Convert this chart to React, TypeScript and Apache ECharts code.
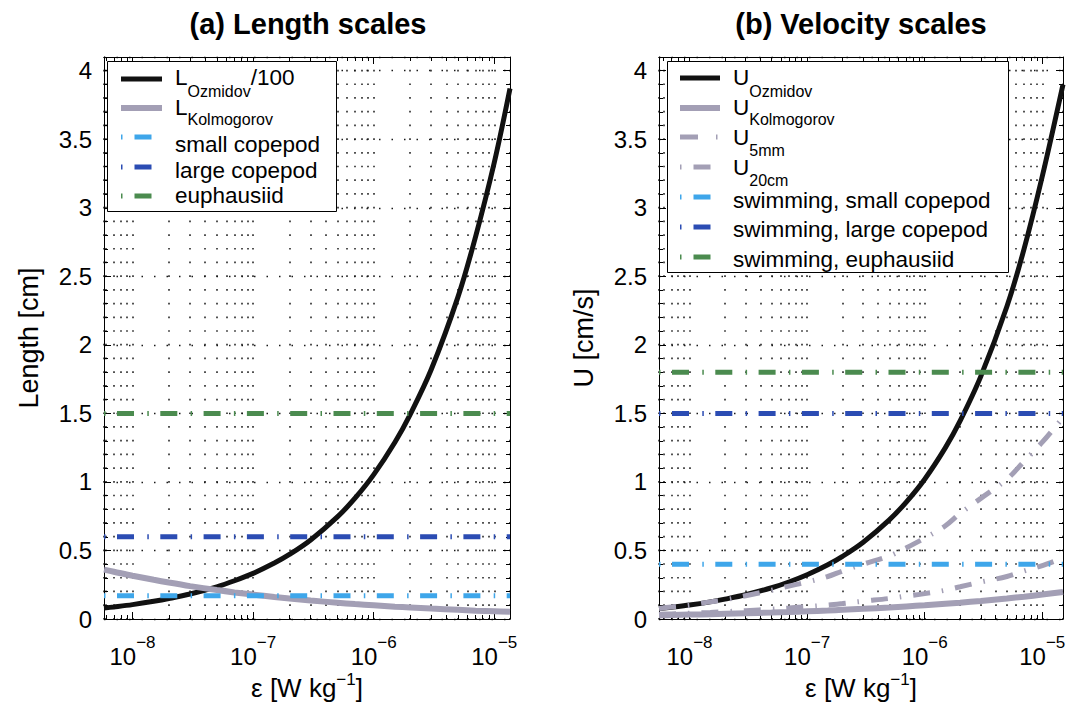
import React, { useEffect, useRef } from 'react';
import * as echarts from 'echarts';

// ---------- data ----------
// panel (a) x range and sample points [W/kg]
const EPS_A_MIN = 5.8e-9;
const EPS_A_MAX = 1.35e-5;
const epsA = [
  5.8e-9, 7e-9, 1e-8, 1.5e-8, 2e-8, 3e-8, 5e-8, 7e-8, 1e-7, 1.5e-7, 2e-7, 3e-7,
  5e-7, 7e-7, 1e-6, 1.5e-6, 2e-6, 3e-6, 5e-6, 7e-6, 1e-5, 1.35e-5,
];
// panel (a) length scales [cm]
const lOzmidov100 = [
  0.08, 0.088, 0.105, 0.129, 0.149, 0.182, 0.235, 0.279, 0.333, 0.408, 0.471, 0.577,
  0.745, 0.881, 1.053, 1.29, 1.49, 1.82, 2.35, 2.79, 3.33, 3.87,
];
const lKolmogorov = [
  0.36, 0.345, 0.316, 0.286, 0.266, 0.24, 0.211, 0.194, 0.178, 0.161, 0.15, 0.135,
  0.119, 0.109, 0.1, 0.09, 0.084, 0.076, 0.067, 0.061, 0.056, 0.052,
];
const lengthRefNames = ['small copepod', 'large copepod', 'euphausiid'];
const lengthRefValues = [0.17, 0.6, 1.5];

// panel (b) x range and sample points [W/kg]
const EPS_B_MIN = 5.5e-9;
const EPS_B_MAX = 1.5e-5;
const epsB = [
  5.5e-9, 7e-9, 1e-8, 1.5e-8, 2e-8, 3e-8, 5e-8, 7e-8, 1e-7, 1.5e-7, 2e-7, 3e-7,
  5e-7, 7e-7, 1e-6, 1.5e-6, 2e-6, 3e-6, 5e-6, 7e-6, 1e-5, 1.5e-5,
];
// panel (b) velocity scales [cm/s]
const uOzmidov = [
  0.076, 0.086, 0.102, 0.125, 0.145, 0.177, 0.228, 0.27, 0.323, 0.396, 0.457, 0.56,
  0.723, 0.855, 1.02, 1.25, 1.445, 1.77, 2.28, 2.7, 3.23, 3.9,
];
const uKolmogorov = [
  0.027, 0.029, 0.032, 0.035, 0.038, 0.042, 0.047, 0.051, 0.056, 0.062, 0.067, 0.074,
  0.084, 0.092, 0.1, 0.111, 0.119, 0.132, 0.15, 0.163, 0.178, 0.197,
];
const u5mm = [
  0.034, 0.037, 0.042, 0.047, 0.053, 0.061, 0.072, 0.08, 0.09, 0.102, 0.113, 0.13,
  0.15, 0.167, 0.185, 0.21, 0.235, 0.27, 0.31, 0.35, 0.39, 0.445,
];
const u20cm = [
  0.077, 0.088, 0.1, 0.125, 0.14, 0.17, 0.21, 0.24, 0.27, 0.31, 0.35, 0.4,
  0.46, 0.52, 0.59, 0.68, 0.77, 0.88, 1.02, 1.15, 1.29, 1.47,
];
const swimNames = ['swimming, small copepod', 'swimming, large copepod', 'swimming, euphausiid'];
const swimValues = [0.4, 1.5, 1.8];

const refColors = ['#3ea6ea', '#2b4cb3', '#4b8b4f'];
const BLACK = '#111111';
const GREY = '#a39fb5';

const Y_MIN = 0;
const Y_MAX = 4.1;

// ---------- styling ----------
const FONT = "'Liberation Sans', Arial, Helvetica, sans-serif";
const GRID_TOP = 57;
const GRID_H = 562;
const ROW = GRID_H / 41;
const grids = [
  { left: 104, top: GRID_TOP, width: 406, height: GRID_H, containLabel: false, outerBoundsMode: 'none' },
  { left: 659, top: GRID_TOP, width: 404, height: GRID_H, containLabel: false, outerBoundsMode: 'none' },
];
const dotV = { color: '#1a1a1a', width: 1.5, type: [1.7, ROW - 1.7], dashOffset: 0.85 };
const dotH = { color: '#1a1a1a', width: 1.3, type: [1.5, 11] };
const REF_DASH = [1.5, 11.5, 17, 13.3];

const expFormatter = (v: number) => {
  const l = Math.log10(v);
  const e = Math.round(l);
  if (Math.abs(l - e) > 1e-6) return '';
  return `{b|10}{e|${e < 0 ? '\u2212' : ''}${Math.abs(e)}}`;
};
const expRich = {
  b: { fontSize: 24, fontFamily: FONT, color: '#000', lineHeight: 34, verticalAlign: 'bottom' },
  e: { fontSize: 17, fontFamily: FONT, color: '#000', lineHeight: 18, verticalAlign: 'top' },
};

function xAxesFor(gi: number, min: number, max: number) {
  return [
    {
      type: 'log', logBase: 10, gridIndex: gi, position: 'bottom', min, max,
      axisLine: { show: true, onZero: false, lineStyle: { color: '#000', width: 1 } },
      axisTick: { show: true, inside: true, length: 7, lineStyle: { color: '#000' } },
      minorTick: { show: true, splitNumber: 9, length: 4, lineStyle: { color: '#000' } },
      axisLabel: { formatter: expFormatter, rich: expRich, margin: 15, showMinLabel: false, showMaxLabel: false },
      splitLine: { show: true, lineStyle: dotV },
      minorSplitLine: { show: true, lineStyle: dotV },
      name: '{n|\u03b5 [W kg}{s|\u22121}{n|]}',
      nameLocation: 'middle',
      nameGap: 52,
      nameMoveOverlap: false,
      nameTextStyle: {
        rich: {
          n: { fontSize: 26, fontFamily: FONT, color: '#000', lineHeight: 30, verticalAlign: 'bottom' },
          s: { fontSize: 17, fontFamily: FONT, color: '#000', lineHeight: 14, verticalAlign: 'top' },
        },
      },
    },
    {
      type: 'log', logBase: 10, gridIndex: gi, position: 'top', min, max,
      axisLine: { show: true, onZero: false, lineStyle: { color: '#000', width: 1 } },
      axisTick: { show: true, inside: true, length: 7, lineStyle: { color: '#000' } },
      minorTick: { show: true, splitNumber: 9, length: 4, lineStyle: { color: '#000' } },
      axisLabel: { show: false },
      splitLine: { show: false },
    },
  ];
}

function yAxesFor(gi: number, name: string) {
  const base = { type: 'value', gridIndex: gi, min: Y_MIN, max: Y_MAX };
  return [
    {
      ...base, position: 'left', interval: 0.5,
      axisLine: { show: true, onZero: false, lineStyle: { color: '#000', width: 1 } },
      axisTick: { show: true, inside: true, length: 7, lineStyle: { color: '#000' } },
      axisLabel: { fontSize: 24, fontFamily: FONT, color: '#000', margin: 12, showMaxLabel: false },
      splitLine: { show: true, lineStyle: dotH },
      name, nameLocation: 'middle', nameGap: 62, nameMoveOverlap: false,
      nameTextStyle: { fontSize: 27, fontFamily: FONT, color: '#000' },
    },
    {
      ...base, position: 'left', interval: 0.1,
      axisLine: { show: false, onZero: false },
      axisTick: { show: true, inside: true, length: 4, lineStyle: { color: '#000' } },
      axisLabel: { show: false }, splitLine: { show: false },
    },
    {
      ...base, position: 'right', interval: 0.5,
      axisLine: { show: true, onZero: false, lineStyle: { color: '#000', width: 1 } },
      axisTick: { show: true, inside: true, length: 7, lineStyle: { color: '#000' } },
      axisLabel: { show: false }, splitLine: { show: false },
    },
    {
      ...base, position: 'right', interval: 0.1,
      axisLine: { show: false, onZero: false },
      axisTick: { show: true, inside: true, length: 4, lineStyle: { color: '#000' } },
      axisLabel: { show: false }, splitLine: { show: false },
    },
  ];
}

function curve(name: string, xs: number[], ys: number[], color: string, width: number, dash: any, xi: number, yi: number, z: number) {
  return {
    type: 'line', name, xAxisIndex: xi, yAxisIndex: yi,
    data: xs.map((x, i) => [x, ys[i]]),
    showSymbol: false, symbol: 'none', smooth: 0.35, silent: true, z,
    lineStyle: { color, width, type: dash, cap: 'butt' },
  };
}
function hline(name: string, v: number, x0: number, x1: number, color: string, xi: number, yi: number, z: number) {
  return {
    type: 'line', name, xAxisIndex: xi, yAxisIndex: yi,
    data: [[x0, v], [x1, v]],
    showSymbol: false, symbol: 'none', silent: true, z,
    lineStyle: { color, width: 5, type: REF_DASH, cap: 'butt' },
  };
}

// ---------- legend graphics ----------
function txt(x: number, y: number, text: string, size: number, extra: any = {}) {
  return {
    type: 'text', x, y, z: 101,
    style: {
      text, fontSize: size, fontFamily: FONT, fill: '#000', lineHeight: size,
      align: 'left', verticalAlign: 'middle', textAlign: 'left', textVerticalAlign: 'middle', ...extra,
    },
  };
}
function sample(x1: number, x2: number, y: number, color: string, width: number, dash?: number[]) {
  return {
    type: 'line', z: 101,
    shape: { x1, y1: y, x2, y2: y },
    style: { stroke: color, lineWidth: width, lineDash: dash, lineCap: 'butt' },
  };
}

const MAIN = 22.5;
const SUB = 16;
const widthL = 0.556 * MAIN;
const widthU = 0.722 * MAIN;
const widthOzmidov = 3.945 * SUB;
const DD = [1.5, 12, 17, 100];

const leftLegend = [
  { type: 'rect', z: 100, shape: { x: 107.5, y: 61.5, width: 229, height: 150 }, style: { fill: '#fff', stroke: '#000', lineWidth: 1 } },
  sample(121, 162, 79, BLACK, 5),
  txt(175, 77.3, 'L', MAIN), txt(175 + widthL, 91.2, 'Ozmidov', SUB), txt(175 + widthL + widthOzmidov, 77.3, '/100', MAIN),
  sample(121, 162, 108, GREY, 6),
  txt(175, 107.3, 'L', MAIN), txt(175 + widthL, 119.5, 'Kolmogorov', SUB),
  sample(121, 162, 137, refColors[0], 5, DD),
  txt(175, 144, lengthRefNames[0], MAIN),
  sample(121, 162, 167, refColors[1], 5, DD),
  txt(175, 170.6, lengthRefNames[1], MAIN),
  sample(121, 162, 196, refColors[2], 5, DD),
  txt(175, 195.6, lengthRefNames[2], MAIN),
];

const rightLegend = [
  { type: 'rect', z: 100, shape: { x: 667.5, y: 61.5, width: 341, height: 211 }, style: { fill: '#fff', stroke: '#000', lineWidth: 1 } },
  sample(680, 720, 78, BLACK, 5),
  txt(733, 77.3, 'U', MAIN), txt(733 + widthU, 91.2, 'Ozmidov', SUB),
  sample(680, 720, 108, GREY, 6),
  txt(733, 107.3, 'U', MAIN), txt(733 + widthU, 119.5, 'Kolmogorov', SUB),
  sample(680, 720, 137, GREY, 5, [18, 18, 1.5, 100]),
  txt(733, 137.3, 'U', MAIN), txt(733 + widthU, 150.8, '5mm', SUB),
  sample(680, 720, 167, GREY, 5, DD),
  txt(733, 167.3, 'U', MAIN), txt(733 + widthU, 180.5, '20cm', SUB),
  sample(680, 720, 197, refColors[0], 5, DD),
  txt(733, 200, swimNames[0], MAIN),
  sample(680, 720, 227, refColors[1], 5, DD),
  txt(733, 229.5, swimNames[1], MAIN),
  sample(680, 720, 257, refColors[2], 5, DD),
  txt(733, 259, swimNames[2], MAIN),
];

const titles = [
  txt(308, 24, '(a) Length scales', 29, { fontWeight: 'bold', align: 'center', textAlign: 'center' }),
  txt(861, 24, '(b) Velocity scales', 29, { fontWeight: 'bold', align: 'center', textAlign: 'center' }),
];

const option: any = {
  animation: false,
  backgroundColor: '#fff',
  grid: grids,
  xAxis: [...xAxesFor(0, EPS_A_MIN, EPS_A_MAX), ...xAxesFor(1, EPS_B_MIN, EPS_B_MAX)],
  yAxis: [...yAxesFor(0, 'Length [cm]'), ...yAxesFor(1, 'U [cm/s]')],
  series: [
    curve('L_Ozmidov/100', epsA, lOzmidov100, BLACK, 5, 'solid', 0, 0, 2),
    curve('L_Kolmogorov', epsA, lKolmogorov, GREY, 6, 'solid', 0, 0, 3),
    ...lengthRefValues.map((v, i) => hline(lengthRefNames[i], v, EPS_A_MIN, EPS_A_MAX, refColors[i], 0, 0, 4)),
    curve('U_Ozmidov', epsB, uOzmidov, BLACK, 5, 'solid', 2, 4, 2),
    curve('U_Kolmogorov', epsB, uKolmogorov, GREY, 6, 'solid', 2, 4, 3),
    curve('U_5mm', epsB, u5mm, GREY, 5, [17, 12, 1.5, 12], 2, 4, 4),
    curve('U_20cm', epsB, u20cm, GREY, 5, [17, 12, 1.5, 12], 2, 4, 4),
    ...swimValues.map((v, i) => hline(swimNames[i], v, EPS_B_MIN, EPS_B_MAX, refColors[i], 2, 4, 5)),
  ],
  graphic: [...titles, ...leftLegend, ...rightLegend],
};

export default function App() {
  const ref = useRef<HTMLDivElement>(null);
  useEffect(() => {
    document.body.style.margin = '0';
    const chart = echarts.init(ref.current!, null, { renderer: 'svg' });
    chart.setOption(option);
    return () => chart.dispose();
  }, []);
  return <div ref={ref} style={{ width: 1068, height: 703 }} />;
}
